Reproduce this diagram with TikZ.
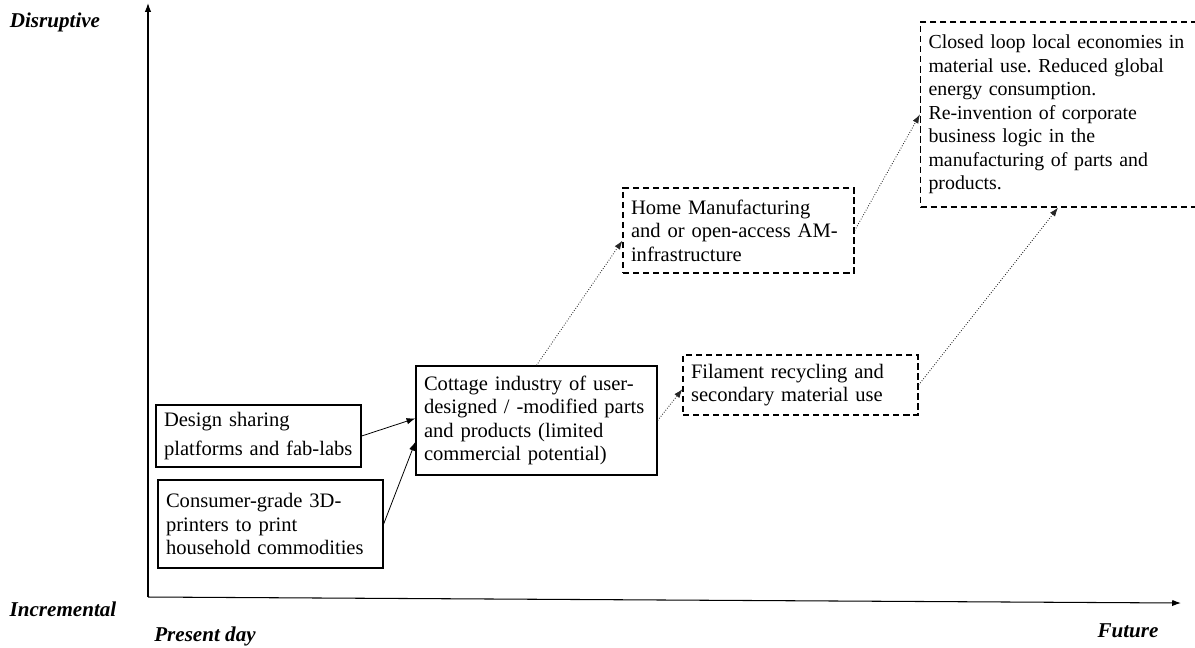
\documentclass[tikz,border=0pt]{standalone}
\usepackage{fontspec}
\setmainfont{Liberation Serif}
\usetikzlibrary{arrows.meta}
\tikzset{
  now/.style = {draw, line width=0.75pt, align=left, inner xsep=0.16cm,
                font=\fontsize{11.7}{13.4}\selectfont\frenchspacing},
  later/.style = {now, dash pattern=on 3.5pt off 2.2pt},
  link/.style = {-{Latex[length=5pt,width=3.6pt]}, line width=0.45pt},
  guess/.style = {link, densely dotted, line width=0.5pt, black!85},
  axislabel/.style = {font=\fontsize{12}{14}\selectfont\bfseries\itshape}
}
\begin{document}
\begin{tikzpicture}[x = 0.02cm, y = -0.02cm]
        \useasboundingbox (0, 0) rectangle (1195, 647);
        % axes
        \coordinate (origin) at (148, 597);
        \coordinate (top) at (148, 3);
        \coordinate (right) at (1181, 603);
        \draw[link, line width=0.6pt] (origin) -- (top);
        \draw[link, line width=0.6pt] (origin) -- (right);
        \node[axislabel] (disrupt) at (55, 22) {Disruptive};
        \node[axislabel] (increm) at (63, 609) {Incremental};
        \node[axislabel] (present) at (205, 636) {Present day};
        \node[axislabel] (future) at (1128, 631) {Future};
        % today
        \node[now, text width=3.78cm, minimum height=1.24cm] (design) at (258.5, 436)
            {Design sharing\\[3pt] platforms and fab-labs};
        \node[now, text width=4.18cm, minimum height=1.76cm] (consumer) at (270.5, 524)
            {Consumer-grade 3D-\\ printers to print\\ household commodities};
        \node[now, text width=4.5cm, minimum height=2.18cm] (cottage) at (536.5, 420.5)
            {Cottage industry of user-\\ designed / -modified parts\\ and products (limited\\ commercial potential)};
        % future
        \node[later, text width=4.3cm, minimum height=1.7cm] (home) at (738.5, 230.5)
            {Home Manufacturing\\ and or open-access AM-\\ infrastructure};
        \node[later, text width=4.38cm, minimum height=1.2cm] (filament) at (800.5, 385)
            {Filament recycling and\\ secondary material use};
        \node[later, text width=5.5cm, minimum height=3.7cm,
              font=\fontsize{11.3}{13.4}\selectfont\frenchspacing] (closed) at (1066, 114.5)
            {Closed loop local economies in\\ material use. Reduced global\\ energy consumption.\\ Re-invention of corporate\\ business logic in the\\ manufacturing of parts and\\ products.};
        % links
        \draw[link] (design.east) -- (cottage.179);
        \draw[link] (consumer.east) -- (cottage.190);
        \draw[guess] (cottage.north) -- (home.185);
        \draw[guess] (cottage.east) -- (filament.182);
        \draw[guess] (home.east) -- (closed.west);
        \draw[guess] (filament.east) -- (closed.south -| 1058, 0);
\end{tikzpicture}
\end{document}
